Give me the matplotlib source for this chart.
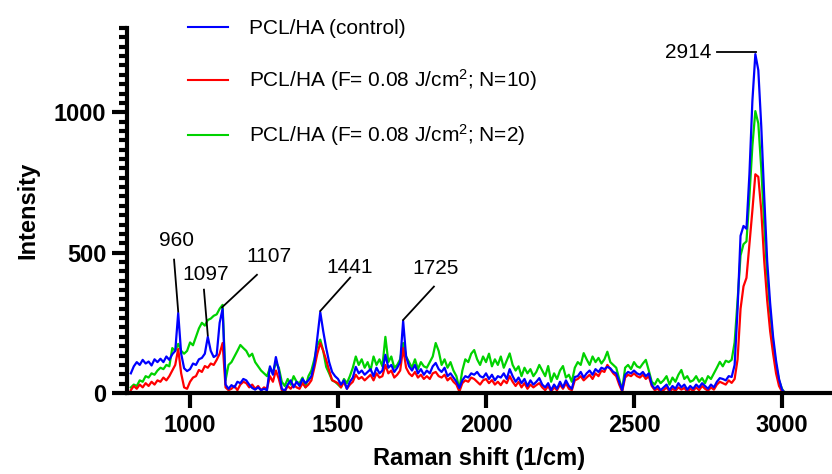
import numpy as np
import matplotlib
matplotlib.use("Agg")
import matplotlib.pyplot as plt
from matplotlib.ticker import MultipleLocator
from matplotlib.lines import Line2D

plt.rcParams['font.family'] = ['Liberation Sans', 'DejaVu Sans']
plt.rcParams['mathtext.fontset'] = 'custom'
plt.rcParams['mathtext.rm'] = 'Liberation Sans'
plt.rcParams['mathtext.it'] = 'Liberation Sans:italic'

# Raman shift grid, 800..3010 1/cm
shift = np.arange(800, 3011, 10)

# PCL/HA (control)
control = [70, 95, 110, 100, 118, 105, 112, 98, 120, 110,
           122, 110, 130, 118, 138, 150, 285, 140, 88, 78,
           85, 105, 100, 120, 125, 140, 200, 150, 128, 135,
           250, 300, 30, 15, 28, 20, 40, 35, 50, 45,
           30, 18, 12, 20, 10, 15, 10, 95, 65, 128,
           80, 15, 8, 30, 45, 20, 40, 25, 50, 35,
           45, 60, 105, 195, 288, 220, 160, 110, 75, 60,
           50, 30, 45, 15, 40, 55, 93, 70, 80, 65,
           75, 85, 60, 90, 70, 80, 136, 90, 100, 75,
           90, 110, 257, 130, 95, 80, 100, 70, 85, 65,
           80, 70, 95, 107, 85, 75, 90, 60, 70, 55,
           40, 18, 45, 60, 55, 70, 65, 75, 60, 55,
           70, 50, 65, 45, 60, 55, 70, 50, 85, 60,
           40, 55, 35, 50, 25, 45, 30, 40, 53, 30,
           20, 35, 10, 30, 15, 40, 20, 45, 25, 15,
           57, 60, 75, 55, 70, 80, 65, 85, 75, 90,
           85, 93, 88, 75, 70, 40, 10, 65, 75, 70,
           80, 70, 65, 75, 60, 70, 30, 15, 25, 10,
           20, 30, 10, 25, 15, 35, 20, 30, 12, 25,
           15, 30, 20, 35, 25, 15, 30, 20, 40, 53,
           50, 45, 60, 57, 100, 300, 560, 595, 585, 780,
           1040, 1207, 1150, 950, 700, 470, 320, 200, 115, 50,
           12, 0]

# PCL/HA (F= 0.08 J/cm2; N=10)
n10 = [10, 25, 15, 30, 20, 35, 25, 40, 30, 45,
       40, 55, 45, 60, 80, 100, 157, 70, 20, 15,
       40, 55, 60, 82, 75, 96, 90, 105, 100, 118,
       140, 178, 20, 10, 15, 25, 10, 30, 40, 35,
       20, 30, 15, 25, 10, 20, 15, 60, 40, 80,
       50, 10, 5, 25, 15, 30, 20, 15, 35, 20,
       30, 45, 90, 140, 178, 150, 118, 80, 46, 40,
       35, 20, 40, 15, 30, 40, 65, 50, 57, 45,
       55, 65, 45, 70, 55, 60, 100, 70, 80, 55,
       65, 80, 160, 90, 70, 60, 75, 55, 65, 50,
       60, 50, 70, 75, 60, 55, 65, 45, 55, 40,
       30, 5, 35, 45, 40, 55, 50, 40, 30, 45,
       50, 35, 46, 30, 40, 28, 45, 35, 60, 40,
       25, 40, 20, 35, 15, 30, 20, 28, 35, 20,
       10, 25, 5, 20, 10, 30, 15, 35, 15, 10,
       45, 50, 60, 45, 55, 65, 50, 70, 60, 80,
       75, 100, 85, 70, 60, 30, 5, 55, 65, 60,
       70, 60, 55, 65, 50, 60, 25, 10, 15, 5,
       10, 20, 5, 15, 8, 20, 12, 18, 5, 15,
       8, 20, 10, 25, 15, 8, 20, 12, 30, 40,
       35, 30, 45, 36, 50, 120, 300, 380, 410, 530,
       650, 779, 770, 650, 470, 330, 220, 140, 70, 25,
       5, 0]

# PCL/HA (F= 0.08 J/cm2; N=2)
n2 = [20, 30, 25, 45, 40, 60, 55, 70, 65, 80,
      90, 85, 100, 95, 160, 150, 175, 150, 140, 150,
      180, 170, 200, 230, 250, 240, 260, 265, 275, 280,
      300, 314, 46, 100, 110, 130, 150, 171, 160, 150,
      130, 140, 110, 95, 80, 70, 60, 90, 70, 110,
      90, 40, 25, 50, 30, 60, 40, 35, 55, 20,
      60, 80, 120, 170, 190, 150, 93, 70, 45, 40,
      30, 20, 50, 35, 60, 90, 130, 100, 120, 90,
      110, 80, 130, 100, 120, 95, 200, 110, 130, 90,
      100, 120, 178, 130, 110, 90, 120, 85, 110, 95,
      90, 110, 130, 178, 150, 100, 120, 90, 110, 80,
      60, 15, 80, 120, 110, 140, 153, 120, 100, 130,
      110, 140, 95, 120, 100, 130, 90, 115, 141, 100,
      80, 95, 60, 90, 70, 85, 60, 75, 100, 80,
      60, 96, 40, 70, 50, 80, 96, 55, 65, 40,
      90, 110, 100, 142, 120, 100, 130, 110, 125, 105,
      120, 147, 110, 100, 90, 50, 10, 90, 100, 85,
      110, 95, 90, 105, 118, 80, 40, 30, 50, 35,
      45, 60, 30, 55, 40, 65, 82, 50, 60, 40,
      45, 60, 40, 53, 35, 60, 50, 70, 90, 111,
      95, 115, 110, 118, 180, 330, 490, 530, 540, 700,
      880, 1004, 960, 800, 600, 420, 290, 180, 100, 45,
      15, 0]

# peak labels: text position, leader line start and end (data units)
peak_names = ['960', '1097', '1107', '1441', '1725', '2914']
peak_text = [(954, 543), (1052, 421), (1268, 486), (1538, 446), (1828, 443), (2682, 1214)]
peak_from = [(946, 475), (1047, 368), (1226, 421), (1541, 411), (1824, 379), (2780, 1214)]
peak_to = [(960, 290), (1060, 205), (1108, 305), (1440, 292), (1720, 260), (2912, 1214)]

fig = plt.figure(figsize=(8.32, 4.74), dpi=100)
ax = fig.add_axes([127 / 832, 81 / 474, 705 / 832, 365 / 474])

ax.plot(shift, n2, color='#00d200', lw=1.6)
ax.plot(shift, n10, color='#ff0000', lw=1.6)
ax.plot(shift, control, color='#0000ff', lw=1.6)

for name, t, a, b in zip(peak_names, peak_text, peak_from, peak_to):
    ax.plot([a[0], b[0]], [a[1], b[1]], color='black', lw=1.3)
    ax.text(t[0], t[1], name, fontsize=15, ha='center', va='center')

ax.set_xlim(787, 3169)
ax.set_ylim(0, 1300)
ax.set_xticks([1000, 1500, 2000, 2500, 3000])
ax.set_yticks([0, 500, 1000])
ax.yaxis.set_minor_locator(MultipleLocator(100 / 3))

for s in ['top', 'right']:
    ax.spines[s].set_visible(False)
for s in ['left', 'bottom']:
    ax.spines[s].set_linewidth(3)
ax.tick_params(which='major', length=11, width=3, labelsize=17, pad=4)
ax.tick_params(which='minor', length=5.5, width=3)
for lab in ax.get_xticklabels() + ax.get_yticklabels():
    lab.set_fontweight('bold')

ax.set_xlabel('Raman shift (1/cm)', fontsize=17, fontweight='bold', labelpad=7)
ax.set_ylabel('Intensity', fontsize=17, fontweight='bold', labelpad=10)

handles = [Line2D([], [], color='#0000ff', lw=1.5),
           Line2D([], [], color='#ff0000', lw=1.5),
           Line2D([], [], color='#00d200', lw=1.5)]
labels = ['PCL/HA (control)',
          r'PCL/HA (F= 0.08 J/cm$^{2}$; N=10)',
          r'PCL/HA (F= 0.08 J/cm$^{2}$; N=2)']
fig.legend(handles, labels, loc='upper left', bbox_to_anchor=(188 / 832, 1 - 19 / 474),
           frameon=False, fontsize=15, handlelength=1.9, handletextpad=1.05,
           labelspacing=1.4, borderpad=0, borderaxespad=0)

fig.savefig('out.png', dpi=100)
